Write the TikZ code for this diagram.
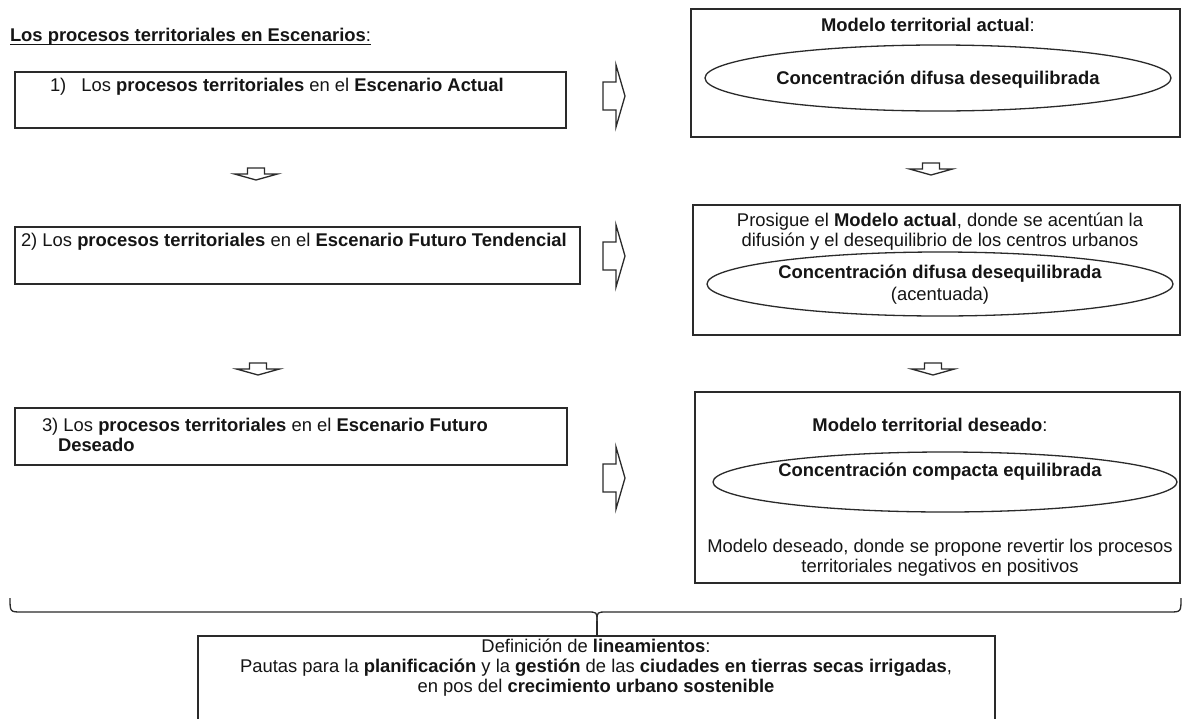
\documentclass[tikz,border=0pt]{standalone}
\usepackage{fontspec}
\setmainfont{Liberation Sans}
\usetikzlibrary{calc,fit,shapes.geometric}
\definecolor{inkc}{HTML}{151515}
\definecolor{linec}{HTML}{2A2A2A}
\begin{document}
\begin{tikzpicture}[x=1pt,y=-1pt,
  every node/.style={inner sep=0pt, outer sep=0pt},
  txt/.style={font=\fontsize{18.4}{20}\selectfont, text=inkc, align=center},
  ltxt/.style={font=\fontsize{18.4}{20}\selectfont, text=inkc, align=left},
  box/.style={draw=linec, line width=1.5pt, inner sep=0pt},
  oval/.style={draw=linec, line width=1.3pt, ellipse, inner sep=0pt},
  barrow/.style={draw=linec, line width=1.3pt, fill=white, line join=miter},
  brace/.style={draw=linec, line width=1.3pt}
]
\useasboundingbox (0,0) rectangle (1183,718);
\fill[white] (0,0) rectangle (1183,718);
\clip (0,0) rectangle (1183,718);

% title
\node[ltxt, anchor=base west] (title) at (10,41) {\textbf{Los procesos territoriales en Escenarios}:};
\draw[inkc, line width=1pt] ($(title.base west)+(0,3)$) -- ($(title.base east)+(0,3)$);

% left boxes (anchor base = baseline of the last line)
\node[box, fit={(15,72) (566,128)}] (b1) {};
\node[ltxt, anchor=base west] (t1) at (50,91) {1)\hspace{15pt}Los \textbf{procesos territoriales} en el \textbf{Escenario Actual}};
\node[box, fit={(15,227) (580,284)}] (b2) {};
\node[ltxt, anchor=base west] (t2) at (21,246) {2) Los \textbf{procesos territoriales} en el \textbf{Escenario Futuro Tendencial}};
\node[box, fit={(15,408) (567,465)}] (b3) {};
\node[ltxt, anchor=base west] (t3) at (42,451) {3) Los \textbf{procesos territoriales} en el \textbf{Escenario Futuro}\\\hspace*{16pt}\textbf{Deseado}};

% right boxes
\node[box, fit={(691,9) (1180,137)}] (r1) {};
\node[txt, anchor=base] (h1) at (928,31) {\textbf{Modelo territorial actual}:};
\node[oval, minimum width=466pt, minimum height=66pt] (e1) at (938,78) {};
\node[txt, anchor=base] (e1t) at (938,84) {\textbf{Concentración difusa desequilibrada}};

\node[box, fit={(693,205) (1180,335)}] (r2) {};
\node[txt, anchor=base] (h2) at (940,246) {Prosigue el \textbf{Modelo actual}, donde se acentúan la\\difusión y el desequilibrio de los centros urbanos};
\node[oval, minimum width=466pt, minimum height=64pt] (e2) at (940,284) {};
\node[txt, anchor=base] (e2t) at (940,300) {\textbf{Concentración difusa desequilibrada}\\[2pt](acentuada)};

\node[box, fit={(695,392) (1180,583)}] (r3) {};
\node[txt, anchor=base] (h3) at (930,431) {\textbf{Modelo territorial deseado}:};
\node[oval, minimum width=464pt, minimum height=60pt] (e3) at (945,482) {};
\node[txt, anchor=base] (e3t) at (940,476) {\textbf{Concentración compacta equilibrada}};
\node[txt, anchor=base] (h3b) at (940,572) {Modelo deseado, donde se propone revertir los procesos\\territoriales negativos en positivos};

% bottom box
\node[box, fit={(198,636) (995,724)}] (bot) {};
\node[txt, anchor=base] (bt) at (596,692) {Definición de \textbf{lineamientos}:\\Pautas para la \textbf{planificación} y la \textbf{gestión} de las \textbf{ciudades en tierras secas irrigadas},\\en pos del \textbf{crecimiento urbano sostenible}};

% right block arrows
\coordinate (ra1) at (614,96);
\coordinate (ra2) at (614,256);
\coordinate (ra3) at (614,478);
\foreach \c in {ra1,ra2,ra3}{
  \draw[barrow, shift={(\c)}] (-11,-14) -- (2,-14) -- (2,-31) -- (11,0) -- (2,31) -- (2,14) -- (-11,14) -- cycle;
}
% down block arrows
\coordinate (da1) at (256,168);
\coordinate (da2) at (931,163);
\coordinate (da3) at (258,363);
\coordinate (da4) at (933,363);
\foreach \c in {da1,da2,da3,da4}{
  \draw[barrow, shift={(\c)}] (-8.5,0) -- (8.5,0) -- (8.5,6) -- (21.5,6) -- (0,12) -- (-21.5,6) -- (-8.5,6) -- cycle;
}

% brace
\coordinate (bl) at (10,598);
\coordinate (br) at (1181,598);
\coordinate (stem) at (597,621);
\draw[brace] (bl) .. controls (10,612) .. (22,612) -- (587,612) .. controls (597,612) .. (stem);
\draw[brace] (br) .. controls (1181,612) .. (1169,612) -- (607,612) .. controls (597,612) .. (stem);
\draw[brace] (stem) -- (bot.north -| stem);
\end{tikzpicture}
\end{document}
